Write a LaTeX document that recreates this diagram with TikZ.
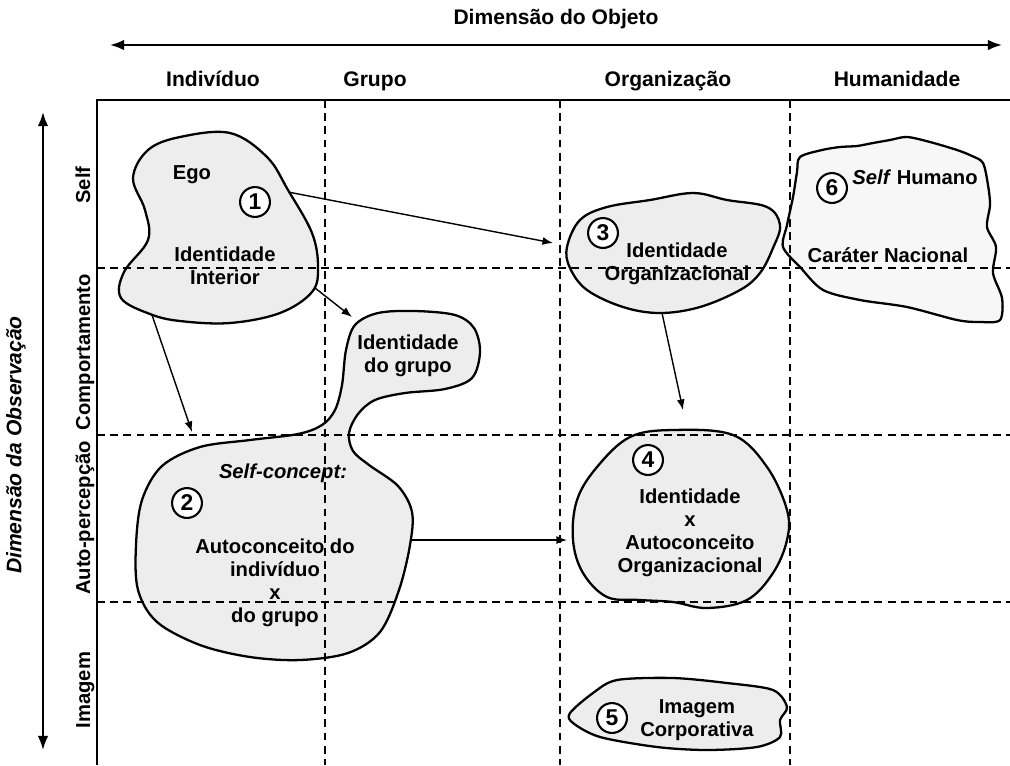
\documentclass[tikz,border=0pt]{standalone}
\usepackage{fontspec}
\setmainfont{Liberation Sans}
\usetikzlibrary{arrows.meta}

\begin{document}
\begin{tikzpicture}[x=0.02cm,y=-0.02cm,
  font=\bfseries\fontsize{11.5}{13}\selectfont,
  blob/.style={draw,line width=1.3pt,fill=black!7},
  grade/.style={line width=0.8pt,dash pattern=on 4.5pt off 3pt},
  num/.style={draw,circle,fill=white,line width=1.2pt,minimum size=17pt,inner sep=0pt,font=\bfseries\fontsize{13}{13}\selectfont},
  rotulo/.style={align=center,inner sep=1pt},
  titulo/.style={font=\bfseries\fontsize{12}{14}\selectfont},
  seta/.style={-{Latex[length=6pt,width=4.5pt]},line width=0.8pt},
  eixo/.style={{Latex[length=8pt,width=6pt]}-{Latex[length=8pt,width=6pt]},line width=1.2pt}]
\useasboundingbox (0,0) rectangle (1010,765);
% blobs
\draw[blob] plot[smooth cycle,tension=0.6] coordinates {(133,178) (148,150) (180,137) (230,133) (267,157) (288,190) (312,233) (318,267) (312,292) (280,313) (230,323) (180,321) (150,314) (121,298) (124,272) (148,240) (145,210)};
\draw[blob] plot[smooth cycle,tension=0.55] coordinates {(162,466) (200,447) (250,440) (298,434) (322,425) (335,410) (342,385) (346,350) (355,325) (378,313) (415,311) (455,315) (474,328) (480,352) (472,378) (445,389) (405,393) (375,400) (358,414) (349,433) (353,451) (369,465) (398,486) (412,512) (410,545) (399,590) (380,632) (348,653) (300,660) (250,657) (200,645) (157,622) (138,590) (136,545) (142,500)};
\draw[blob] plot[smooth cycle,tension=0.6] coordinates {(567,247) (580,220) (607,207) (650,200) (693,193) (727,200) (767,207) (780,225) (773,248) (760,273) (740,290) (700,307) (660,313) (623,307) (587,290) (570,268)};
\draw[blob,fill=black!3] plot[smooth cycle,tension=0.5] coordinates {(800,157) (822,150) (840,147) (857,146) (873,143) (890,140) (907,137) (930,142) (957,150) (972,156) (983,163) (988,185) (990,205) (987,227) (996,247) (993,273) (1002,298) (1000,320) (980,322) (957,320) (907,307) (860,300) (823,290) (800,267) (783,247) (787,225) (793,197) (797,172)};
\draw[blob] plot[smooth cycle,tension=0.6] coordinates {(630,437) (673,430) (733,435) (767,467) (787,510) (787,540) (773,573) (747,600) (707,608) (673,602) (640,600) (607,597) (583,573) (573,540) (577,500) (597,467)};
\draw[blob] plot[smooth cycle,tension=0.5] coordinates {(617,680) (673,678) (727,683) (773,690) (787,707) (780,720) (780,737) (757,747) (707,750) (657,747) (600,737) (573,723) (570,713) (593,693)};
% quadro
\draw[line width=1.4pt] (1010,100) -- (97,100) -- (97,765);
% verticais
\foreach \x in {325,560,790} \draw[grade] (\x,100) -- (\x,765);
% horizontais
\foreach \y in {268,435,602} \draw[grade] (97,\y) -- (1010,\y);
% eixos
\coordinate (oesq) at (110,45);
\coordinate (odir) at (1002,45);
\draw[eixo] (oesq) -- (odir);
\coordinate (vcima) at (43,112);
\coordinate (vbaixo) at (43,750);
\draw[eixo] (vcima) -- (vbaixo);
\node[titulo,anchor=base] (objeto) at (556,24) {Dimensão do Objeto};
\node[titulo,rotate=90] (observacao) at (16,445) {\itshape Dimensão da Observação};
% colunas
\node[titulo,anchor=base] (individuo) at (213,86) {Indivíduo};
\node[titulo,anchor=base] (grupo) at (375,86) {Grupo};
\node[titulo,anchor=base] (organizacao) at (668,86) {Organização};
\node[titulo,anchor=base] (humanidade) at (897,86) {Humanidade};
% linhas
\node[rotate=90,anchor=base] (self) at (90,185) {Self};
\node[rotate=90,anchor=base] (comport) at (90,352) {Comportamento};
\node[rotate=90,anchor=base] (autoperc) at (90,518) {Auto-percepção};
\node[rotate=90,anchor=base] (imagem) at (90,690) {Imagem};
% textos
\node[rotulo] (ego) at (192,175) {Ego};
\node[num] (n1) at (255,202) {1};
\node[rotulo] (interior) at (225,266) {Identidade\\Interior};
\node[rotulo] (idgrupo) at (408,356) {Identidade\\do grupo};
\node[rotulo] (selfc) at (283,473) {\itshape Self-concept:};
\node[num] (n2) at (187,503) {2};
\node[rotulo] (autoind) at (275,583) {Autoconceito do\\indivíduo\\x\\do grupo};
\node[num] (n3) at (603,233) {3};
\node[rotulo] (idorg) at (677,264) {Identidade\\Organizacional};
\node[num] (n6) at (832,188) {6};
\node[rotulo] (selfh) at (915,177) {\textit{Self} Humano};
\node[rotulo] (carater) at (888,255) {Caráter Nacional};
\node[num] (n4) at (648,460) {4};
\node[rotulo] (idauto) at (690,533) {Identidade\\x\\Autoconceito\\Organizacional};
\node[num] (n5) at (612,718) {5};
\node[rotulo] (corp) at (697,720) {Imagem\\Corporativa};
% setas
\coordinate (s1) at (288,192);
\coordinate (e3) at (553,243);
\coordinate (s2) at (315,288);
\coordinate (eg) at (352,317);
\coordinate (s3) at (152,315);
\coordinate (e2) at (192,432);
\coordinate (s4) at (662,313);
\coordinate (e4) at (683,410);
\coordinate (s5) at (410,540);
\coordinate (e5) at (567,540);
\draw[seta] (s1) -- (e3);
\draw[seta] (s2) -- (eg);
\draw[seta] (s3) -- (e2);
\draw[seta] (s4) -- (e4);
\draw[seta] (s5) -- (e5);
\end{tikzpicture}
\end{document}
